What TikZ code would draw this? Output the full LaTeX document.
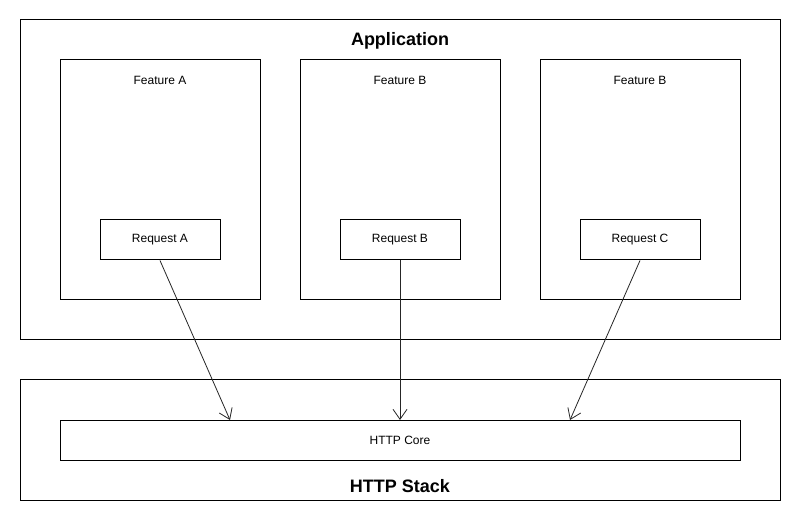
\documentclass[tikz,border=0pt]{standalone}
\usepackage{fontspec}
\setmainfont{Liberation Sans}
\usetikzlibrary{arrows.meta}
\begin{document}
\begin{tikzpicture}[x=1pt,y=-1pt,line width=1pt,
  box/.style={draw=black},
  lbl/.style={font=\fontsize{12}{14}\selectfont,inner sep=0pt},
  title/.style={font=\fontsize{18}{21}\selectfont\bfseries,inner sep=0pt},
  conn/.style={draw=black!85,line width=0.8pt,-{Straight Barb[length=10pt,width=14pt,line width=0.8pt]}}]
\useasboundingbox (0,0) rectangle (801,521);
\fill[white] (0,0) rectangle (801,521);
% outer boxes
\draw[box] (20,20) rectangle (780,340);
\node[title] (app) at (400,41) {Application};
\draw[box] (20,380) rectangle (780,500);
\node[title] (stack) at (400,486) {HTTP Stack};
% features
\draw[box] (60,60) rectangle (260,300);
\node[lbl] (fa) at (160,80) {Feature A};
\draw[box] (300,60) rectangle (500,300);
\node[lbl] (fb) at (400,80) {Feature B};
\draw[box] (540,60) rectangle (740,300);
\node[lbl] (fc) at (640,80) {Feature B};
% requests
\node[box,lbl,minimum width=120pt,minimum height=40pt] (ra) at (160,240) {Request A};
\node[box,lbl,minimum width=120pt,minimum height=40pt] (rb) at (400,240) {Request B};
\node[box,lbl,minimum width=120pt,minimum height=40pt] (rc) at (640,240) {Request C};
% core
\node[box,lbl,minimum width=680pt,minimum height=40pt] (core) at (400,440) {HTTP Core};
\coordinate (ea) at (230,420);
\coordinate (eb) at (400,420);
\coordinate (ec) at (570,420);
\draw[conn] (ra.south) -- (ea);
\draw[conn] (rb.south) -- (eb);
\draw[conn] (rc.south) -- (ec);
\end{tikzpicture}
\end{document}
